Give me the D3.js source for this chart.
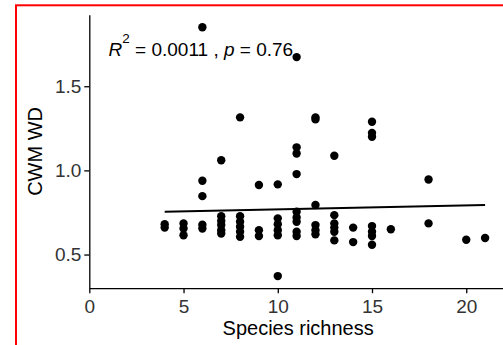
<!DOCTYPE html>
<html>
<head>
<meta charset="utf-8">
<script src="https://cdn.jsdelivr.net/npm/d3@7/dist/d3.min.js"></script>
<style>
  html, body { margin: 0; padding: 0; background: #fff; }
  svg { display: block; }
</style>
</head>
<body>
<svg id="chart" width="503" height="345"></svg>
<script>
// ---- data ----
const richness = [
  4, 4,
  5, 5, 5,
  6, 6, 6, 6, 6,
  7, 7, 7, 7, 7, 7,
  8, 8, 8, 8, 8, 8,
  9, 9, 9,
  10, 10, 10, 10, 10, 10,
  11, 11, 11, 11, 11, 11, 11, 11, 11,
  12, 12, 12, 12, 12, 12,
  13, 13, 13, 13, 13, 13,
  14, 14,
  15, 15, 15, 15, 15, 15, 15,
  16,
  18, 18,
  20,
  21
];
const cwmWD = [
  0.68, 0.66,
  0.685, 0.655, 0.615,
  1.85, 0.938, 0.847, 0.677, 0.655,
  1.06, 0.728, 0.70, 0.675, 0.645, 0.625,
  1.315, 0.728, 0.695, 0.665, 0.635, 0.605,
  0.913, 0.645, 0.61,
  0.917, 0.715, 0.68, 0.645, 0.615, 0.372,
  1.673, 1.137, 1.10, 0.978, 0.754, 0.72, 0.695, 0.635, 0.61,
  1.315, 1.303, 0.794, 0.675, 0.645, 0.62,
  1.087, 0.734, 0.685, 0.66, 0.635, 0.584,
  0.66, 0.574,
  1.289, 1.223, 1.20, 0.669, 0.635, 0.61, 0.558,
  0.65,
  0.946, 0.685,
  0.588,
  0.598
];
const fitX = [4, 21];
const fitY = [0.754, 0.794];
const xTicks = [0, 5, 10, 15, 20];
const yTicks = [0.5, 1.0, 1.5];
const xTitle = "Species richness";
const yTitle = "CWM WD";
const statR2 = "0.0011";
const statP = "0.76";

// ---- drawing ----
const svg = d3.select("#chart");
const font = "'Liberation Sans', Arial, Helvetica, sans-serif";

const x = d3.scaleLinear().domain([0, 21.95]).range([89.3, 503]);
const y = d3.scaleLinear().domain([0.3, 1.925]).range([288.2, 14.7]);

// red frame
svg.append("rect")
  .attr("x", 16).attr("y", 5.3)
  .attr("width", 520).attr("height", 360)
  .attr("fill", "none").attr("stroke", "#ff0000").attr("stroke-width", 2);

// axes
const xAxis = svg.append("g")
  .attr("transform", `translate(0,${y.range()[0]})`)
  .call(d3.axisBottom(x).tickValues(xTicks).tickFormat(d3.format("d"))
        .tickSize(5).tickSizeOuter(0).tickPadding(6));
const yAxis = svg.append("g")
  .attr("transform", `translate(${x.range()[0]},0)`)
  .call(d3.axisLeft(y).tickValues(yTicks).tickFormat(d3.format(".1f"))
        .tickSize(5).tickSizeOuter(0).tickPadding(3));

[xAxis, yAxis].forEach(g => {
  g.select(".domain").attr("stroke", "#000").attr("stroke-width", 1.3);
  g.selectAll(".tick line").attr("stroke", "#000").attr("stroke-width", 1.3);
  g.selectAll(".tick text").attr("fill", "#333").style("font-family", font).style("font-size", "19px");
});

// points
svg.append("g").selectAll("circle")
  .data(richness.map((r, i) => [r, cwmWD[i]]))
  .join("circle")
  .attr("cx", d => x(d[0]))
  .attr("cy", d => y(d[1]))
  .attr("r", 4.2)
  .attr("fill", "#000");

// regression line
svg.append("path")
  .datum(fitX.map((v, i) => [v, fitY[i]]))
  .attr("d", d3.line().x(d => x(d[0])).y(d => y(d[1])))
  .attr("stroke", "#000").attr("stroke-width", 2).attr("fill", "none");

// axis titles
svg.append("text")
  .attr("x", (89.3 + 503) / 2 + 2).attr("y", 335)
  .attr("text-anchor", "middle")
  .style("font-family", font).style("font-size", "20px").attr("fill", "#000")
  .text(xTitle);

svg.append("text")
  .attr("transform", `translate(42,${(y.range()[0] + y.range()[1]) / 2}) rotate(-90)`)
  .attr("text-anchor", "middle")
  .style("font-family", font).style("font-size", "20px").attr("fill", "#000")
  .text(yTitle);

// statistics annotation
const ann = svg.append("text")
  .attr("x", 108.5).attr("y", 55.5)
  .style("font-family", font).style("font-size", "19px").attr("fill", "#000");
ann.append("tspan").style("font-style", "italic").text("R");
ann.append("tspan").attr("dy", -13).style("font-size", "13.5px").text("2");
ann.append("tspan").attr("dy", 13).text(` = ${statR2} , `);
ann.append("tspan").style("font-style", "italic").text("p");
ann.append("tspan").text(` = ${statP}`);
</script>
</body>
</html>
